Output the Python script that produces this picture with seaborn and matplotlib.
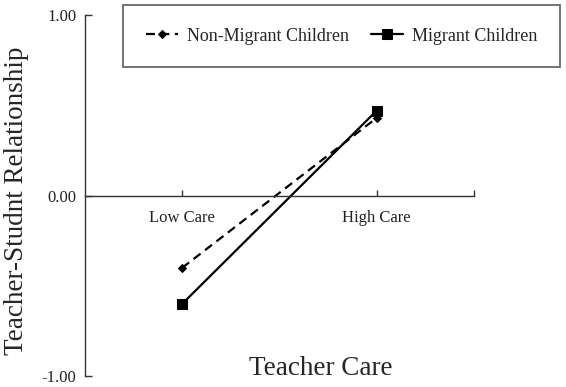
import pandas as pd
import seaborn as sns
import matplotlib.pyplot as plt

# Datos
care_levels = ['Low Care', 'High Care']
non_migrant = [-0.40, 0.43]
migrant = [-0.60, 0.47]
groups = ['Non-Migrant Children', 'Migrant Children']
y_ticks = [-1.0, 0.0, 1.0]

df = pd.DataFrame({
    'care': [0, 1, 0, 1],
    'value': non_migrant + migrant,
    'group': [groups[0]] * 2 + [groups[1]] * 2,
})

sns.set_style('white')
plt.rcParams['font.family'] = ['Liberation Serif', 'DejaVu Serif']

fig = plt.figure(figsize=(5.66, 3.87), dpi=100)
ax = fig.add_axes([0.150, 0.028, 0.687, 0.933])

sns.lineplot(data=df, x='care', y='value', hue='group', style='group',
             palette=['black', 'black'], dashes={groups[0]: (4, 2.5), groups[1]: ''},
             markers={groups[0]: 'D', groups[1]: 's'}, ax=ax, legend=False,
             linewidth=1.6)
# Ajustar tamanos de marcadores
ax.lines[0].set_markersize(4.5)
ax.lines[1].set_markersize(6.5)
for ln in ax.lines:
    ln.set_markeredgecolor('black')

ax.set_xlim(-0.5, 1.5)
ax.set_ylim(-1.0, 1.0)
ax.spines['top'].set_visible(False)
ax.spines['right'].set_visible(False)
ax.spines['bottom'].set_position(('data', 0))
for s in ['left', 'bottom']:
    ax.spines[s].set_color('#333333')
    ax.spines[s].set_linewidth(1.0)

ax.set_xticks([0, 1])
ax.set_xticklabels(care_levels, fontsize=12, color='#222222')
ax.set_xticks([1.5], minor=True)
ax.tick_params(axis='x', which='both', bottom=True, direction='in', length=4,
               width=1.0, pad=10, color='#333333')
ax.set_yticks(y_ticks)
ax.set_yticklabels([f'{v:.2f}' for v in y_ticks], fontsize=12, color='#222222')
ax.tick_params(axis='y', left=True, direction='in', length=5, width=1.0,
               pad=6, color='#333333')

ax.set_xlabel('')
ax.set_ylabel('')
fig.text(0.029, 0.48, 'Teacher-Studnt Relationship', fontsize=19.5,
         rotation=90, ha='center', va='center')
fig.text(0.567, 0.047, 'Teacher Care', fontsize=19.5, ha='center', va='center')

handles = ax.lines[:2]
leg = fig.legend(handles, groups, ncol=2, loc='upper left',
                 bbox_to_anchor=(0.2173, 0.987), fontsize=13, frameon=True,
                 fancybox=False, edgecolor='#333333', borderpad=1.25,
                 handlelength=1.8, columnspacing=1.2, handletextpad=0.5,
                 borderaxespad=0)
leg.get_frame().set_linewidth(1.2)

plt.savefig('out.png', dpi=100)
